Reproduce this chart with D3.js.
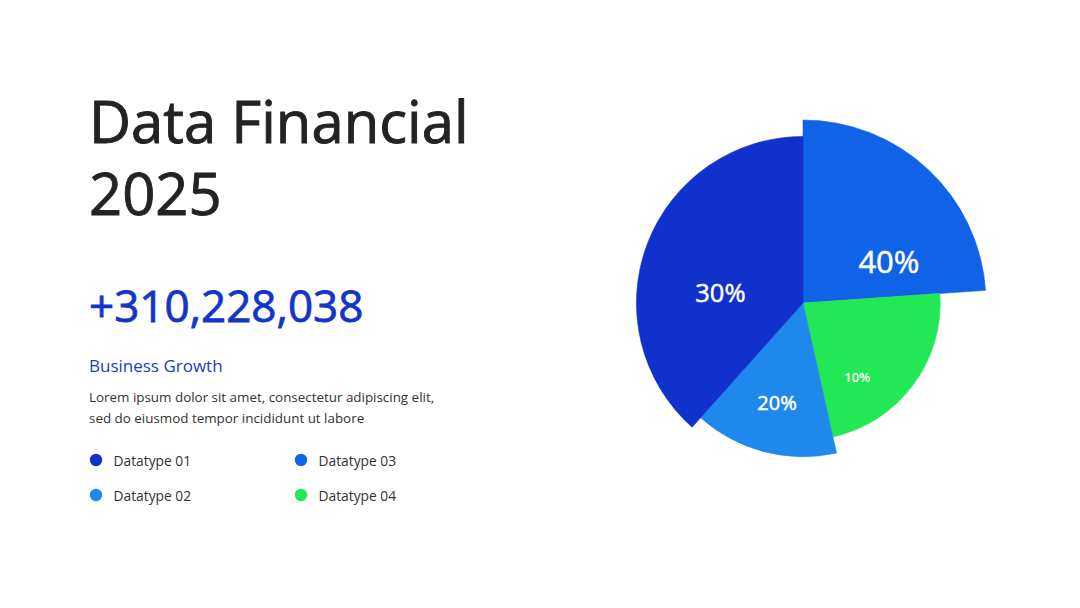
<!DOCTYPE html>
<html>
<head>
<meta charset="utf-8">
<script src="https://cdn.jsdelivr.net/npm/d3@7"></script>
<style>
  html, body { margin: 0; padding: 0; background: #fff; }
  svg { display: block; font-family: "Open Sans", "Noto Sans", sans-serif; }
</style>
</head>
<body>
<svg id="chart" width="1080" height="608"></svg>
<script>
"use strict";

/* ── Data ─────────────────────────────────────────── */
const titleLines  = ["Data Financial", "2025"];
const headline    = "+310,228,038";
const subTitle    = "Business Growth";
const bodyLines   = [
  "Lorem ipsum dolor sit amet, consectetur adipiscing elit,",
  "sed do eiusmod tempor incididunt ut labore"
];

// slices in drawing order, clockwise from 12 o'clock
const sliceNames  = ["Datatype 03", "Datatype 04", "Datatype 02", "Datatype 01"];
const sliceShares = [23.9, 22.6, 15.1, 38.4];      // angular share
const sliceReach  = [100, 75, 84, 91];             // relative outer radius
const sliceLabels = ["40%", "10%", "20%", "30%"];

// legend order (two columns)
const legendNames = ["Datatype 01", "Datatype 02", "Datatype 03", "Datatype 04"];

const COLORS = {
  "Datatype 01": "#1131cc",
  "Datatype 02": "#1f88ec",
  "Datatype 03": "#1062e6",
  "Datatype 04": "#22e855"
};

/* ── Layout ───────────────────────────────────────── */
const svg = d3.select("#chart");
const CX = 803, CY = 303, RMAX = 183;

/* title block */
const left = svg.append("g").attr("transform", "translate(89,0)");

left.selectAll(".title")
  .data(titleLines)
  .join("text")
  .attr("class", "title")
  .attr("x", 0)
  .attr("y", (d, i) => 143 + i * 72)
  .attr("font-size", 58)
  .attr("fill", "#232323")
  .attr("stroke", "#232323")
  .attr("stroke-width", 0.9)
  .text((d) => d);

left.append("text")
  .attr("x", 0).attr("y", 322)
  .attr("font-size", 44)
  .attr("fill", "#1434c8")
  .attr("stroke", "#1434c8")
  .attr("stroke-width", 0.8)
  .text(headline);

left.append("text")
  .attr("x", 0).attr("y", 372)
  .attr("font-size", 17)
  .attr("fill", "#1a3cc8")
  .text(subTitle);

left.selectAll(".body")
  .data(bodyLines)
  .join("text")
  .attr("class", "body")
  .attr("x", 0)
  .attr("y", (d, i) => 402 + i * 21)
  .attr("font-size", 13.4)
  .attr("fill", "#333")
  .text((d) => d);

/* legend */
const legX = d3.scalePoint().domain([0, 1]).range([7, 212]);
const legY = d3.scalePoint().domain([0, 1]).range([460, 495]);

const leg = left.selectAll(".leg")
  .data(legendNames)
  .join("g")
  .attr("class", "leg")
  .attr("transform", (d, i) => `translate(${legX(Math.floor(i / 2))},${legY(i % 2)})`);

leg.append("circle")
  .attr("r", 6.2)
  .attr("fill", (d) => COLORS[d]);

leg.append("text")
  .attr("x", 17.5).attr("y", 5.5)
  .attr("font-size", 13.8)
  .attr("fill", "#333")
  .text((d) => d);

/* pie */
const slices = sliceNames.map((name, i) => ({
  name, share: sliceShares[i], reach: sliceReach[i], label: sliceLabels[i]
}));

const rScale = d3.scaleLinear().domain([0, 100]).range([0, RMAX]);

const pie = d3.pie().sort(null).value((d) => d.share);
const arcs = pie(slices);

const arc = d3.arc()
  .innerRadius(0)
  .outerRadius((d) => rScale(d.data.reach));

const pg = svg.append("g").attr("transform", `translate(${CX},${CY})`);

pg.selectAll("path")
  .data(arcs)
  .join("path")
  .attr("d", arc)
  .attr("fill", (d) => COLORS[d.data.name])
  .attr("stroke", (d) => COLORS[d.data.name])
  .attr("stroke-width", 0.6);

// label anchors (polar, relative to the slice's own angle span / radius)
const labelT    = [0.75, 0.71, 0.5, 0.4];   // fraction along the slice span
const labelR    = [0.52, 0.67, 0.67, 0.5];  // fraction of slice radius
const labelSize = [31, 13, 20, 25.5];

pg.selectAll(".lbl")
  .data(arcs)
  .join("text")
  .attr("class", "lbl")
  .attr("transform", (d, i) => {
    const a = d.startAngle + (d.endAngle - d.startAngle) * labelT[i];
    const [x, y] = d3.pointRadial(a, rScale(d.data.reach) * labelR[i]);
    return `translate(${x},${y})`;
  })
  .attr("text-anchor", "middle")
  .attr("dy", "0.36em")
  .attr("font-size", (d, i) => labelSize[i])
  .attr("font-weight", (d, i) => (i === 1 ? 600 : 400))
  .attr("fill", "#fff")
  .attr("stroke", "#fff")
  .attr("stroke-width", (d, i) => (i === 1 ? 0 : 0.5))
  .text((d) => d.data.label);
</script>
</body>
</html>
